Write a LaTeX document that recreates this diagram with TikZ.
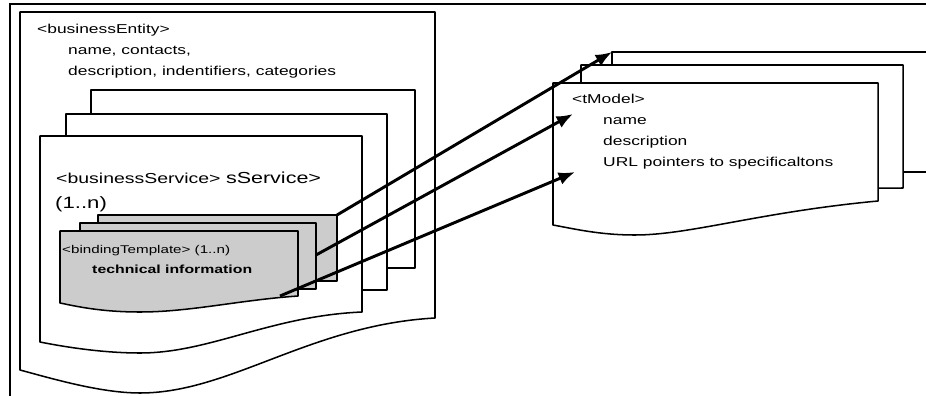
\documentclass[tikz,border=0pt]{standalone}
\usepackage{fontspec}
\setmainfont{Liberation Sans}[FakeStretch=1.35]
\usetikzlibrary{arrows.meta}

\begin{document}
\begin{tikzpicture}[x=0.03cm, y=-0.03cm, >={Latex[length=14pt,width=11pt]}]
        \tikzset{page/.style={draw, line width=1.3pt, fill=white, line join=round},
                 bindpage/.style={page, fill=gray!40},
                 lbl/.style={inner sep=0pt, anchor=base west, align=left},
                 link/.style={->, line width=2.5pt}}
        \useasboundingbox (0,0) rectangle (926,396);
        % outer frame
        \draw[line width=1.3pt] (10,400) -- (10,4) -- (930,4);
        % businessEntity page
        \draw[page] (20,370) -- (20,12) -- (435,12) -- (435,318) .. controls (310,325) and (230,393) .. (140,393) .. controls (100,393) and (50,378) .. (20,370) -- cycle;
        % businessService pages
        \draw[page] (91,90) rectangle (415,268);
        \draw[page] (66,114) rectangle (387,290);
        \draw[page] (40,342) -- (40,136) -- (362,136) -- (362,312) .. controls (270,316) and (210,353) .. (140,353) .. controls (100,353) and (60,346) .. (40,342) -- cycle;
        % bindingTemplate pages
        \draw[bindpage] (98,215) rectangle (337,281);
        \draw[bindpage] (80,223) rectangle (316,289);
        \draw[bindpage] (60,303) -- (60,231) -- (298,231) -- (298,296) .. controls (240,300) and (190,312) .. (140,312) .. controls (100,312) and (75,306) .. (60,303) -- cycle;
        % tModel pages
        \draw[page] (612,172) -- (612,52) -- (935,52) -- (935,172) -- cycle;
        \draw[page] (581,190) -- (581,65) -- (903,65) -- (903,188) -- cycle;
        \draw[page] (553,225) -- (553,83) -- (878,83) -- (878,201) .. controls (760,212) and (690,235) .. (635,235) .. controls (600,235) and (575,229) .. (553,225) -- cycle;

        % texts (multi-line nodes sit on their last baseline)
        \node[lbl, font=\fontsize{11}{13}\selectfont] (entity) at (37,34) {<businessEntity>};
        \node[lbl, font=\fontsize{11}{17.5}\selectfont] (entityinfo) at (68,75) {name, contacts,\\description, indentifiers, categories};
        \node[lbl] (service) at (56,183) {\fontsize{12.3}{15}\selectfont <businessService> \fontsize{13.6}{17}\selectfont sService>};
        \node[lbl, font=\fontsize{14}{17}\selectfont] (servicecount) at (55,208) {(1..n)};
        \node[lbl, font=\fontsize{9.6}{12}\selectfont] (binding) at (62,253) {<bindingTemplate> (1..n)};
        \node[lbl, font=\bfseries\fontsize{10}{12}\selectfont] (bindinginfo) at (92,273) {technical information};
        \node[lbl, font=\fontsize{11}{13}\selectfont] (tmodel) at (572,104) {<tModel>};
        \node[lbl, font=\fontsize{11}{17.5}\selectfont] (tmodelinfo) at (603,166) {name\\description\\URL pointers to specificaltons};

        \coordinate (bindback) at (337,215);
        \coordinate (bindmid) at (316,255);
        \coordinate (bindfront) at (280,296);
        \coordinate (tmback) at (612,52);
        \coordinate (tmmid) at (573,114);
        \coordinate (tmfront) at (575,172);
        \draw[link] (bindback) -- (tmback);
        \draw[link] (bindmid) -- (tmmid);
        \draw[link] (bindfront) -- (tmfront);
\end{tikzpicture}
\end{document}
